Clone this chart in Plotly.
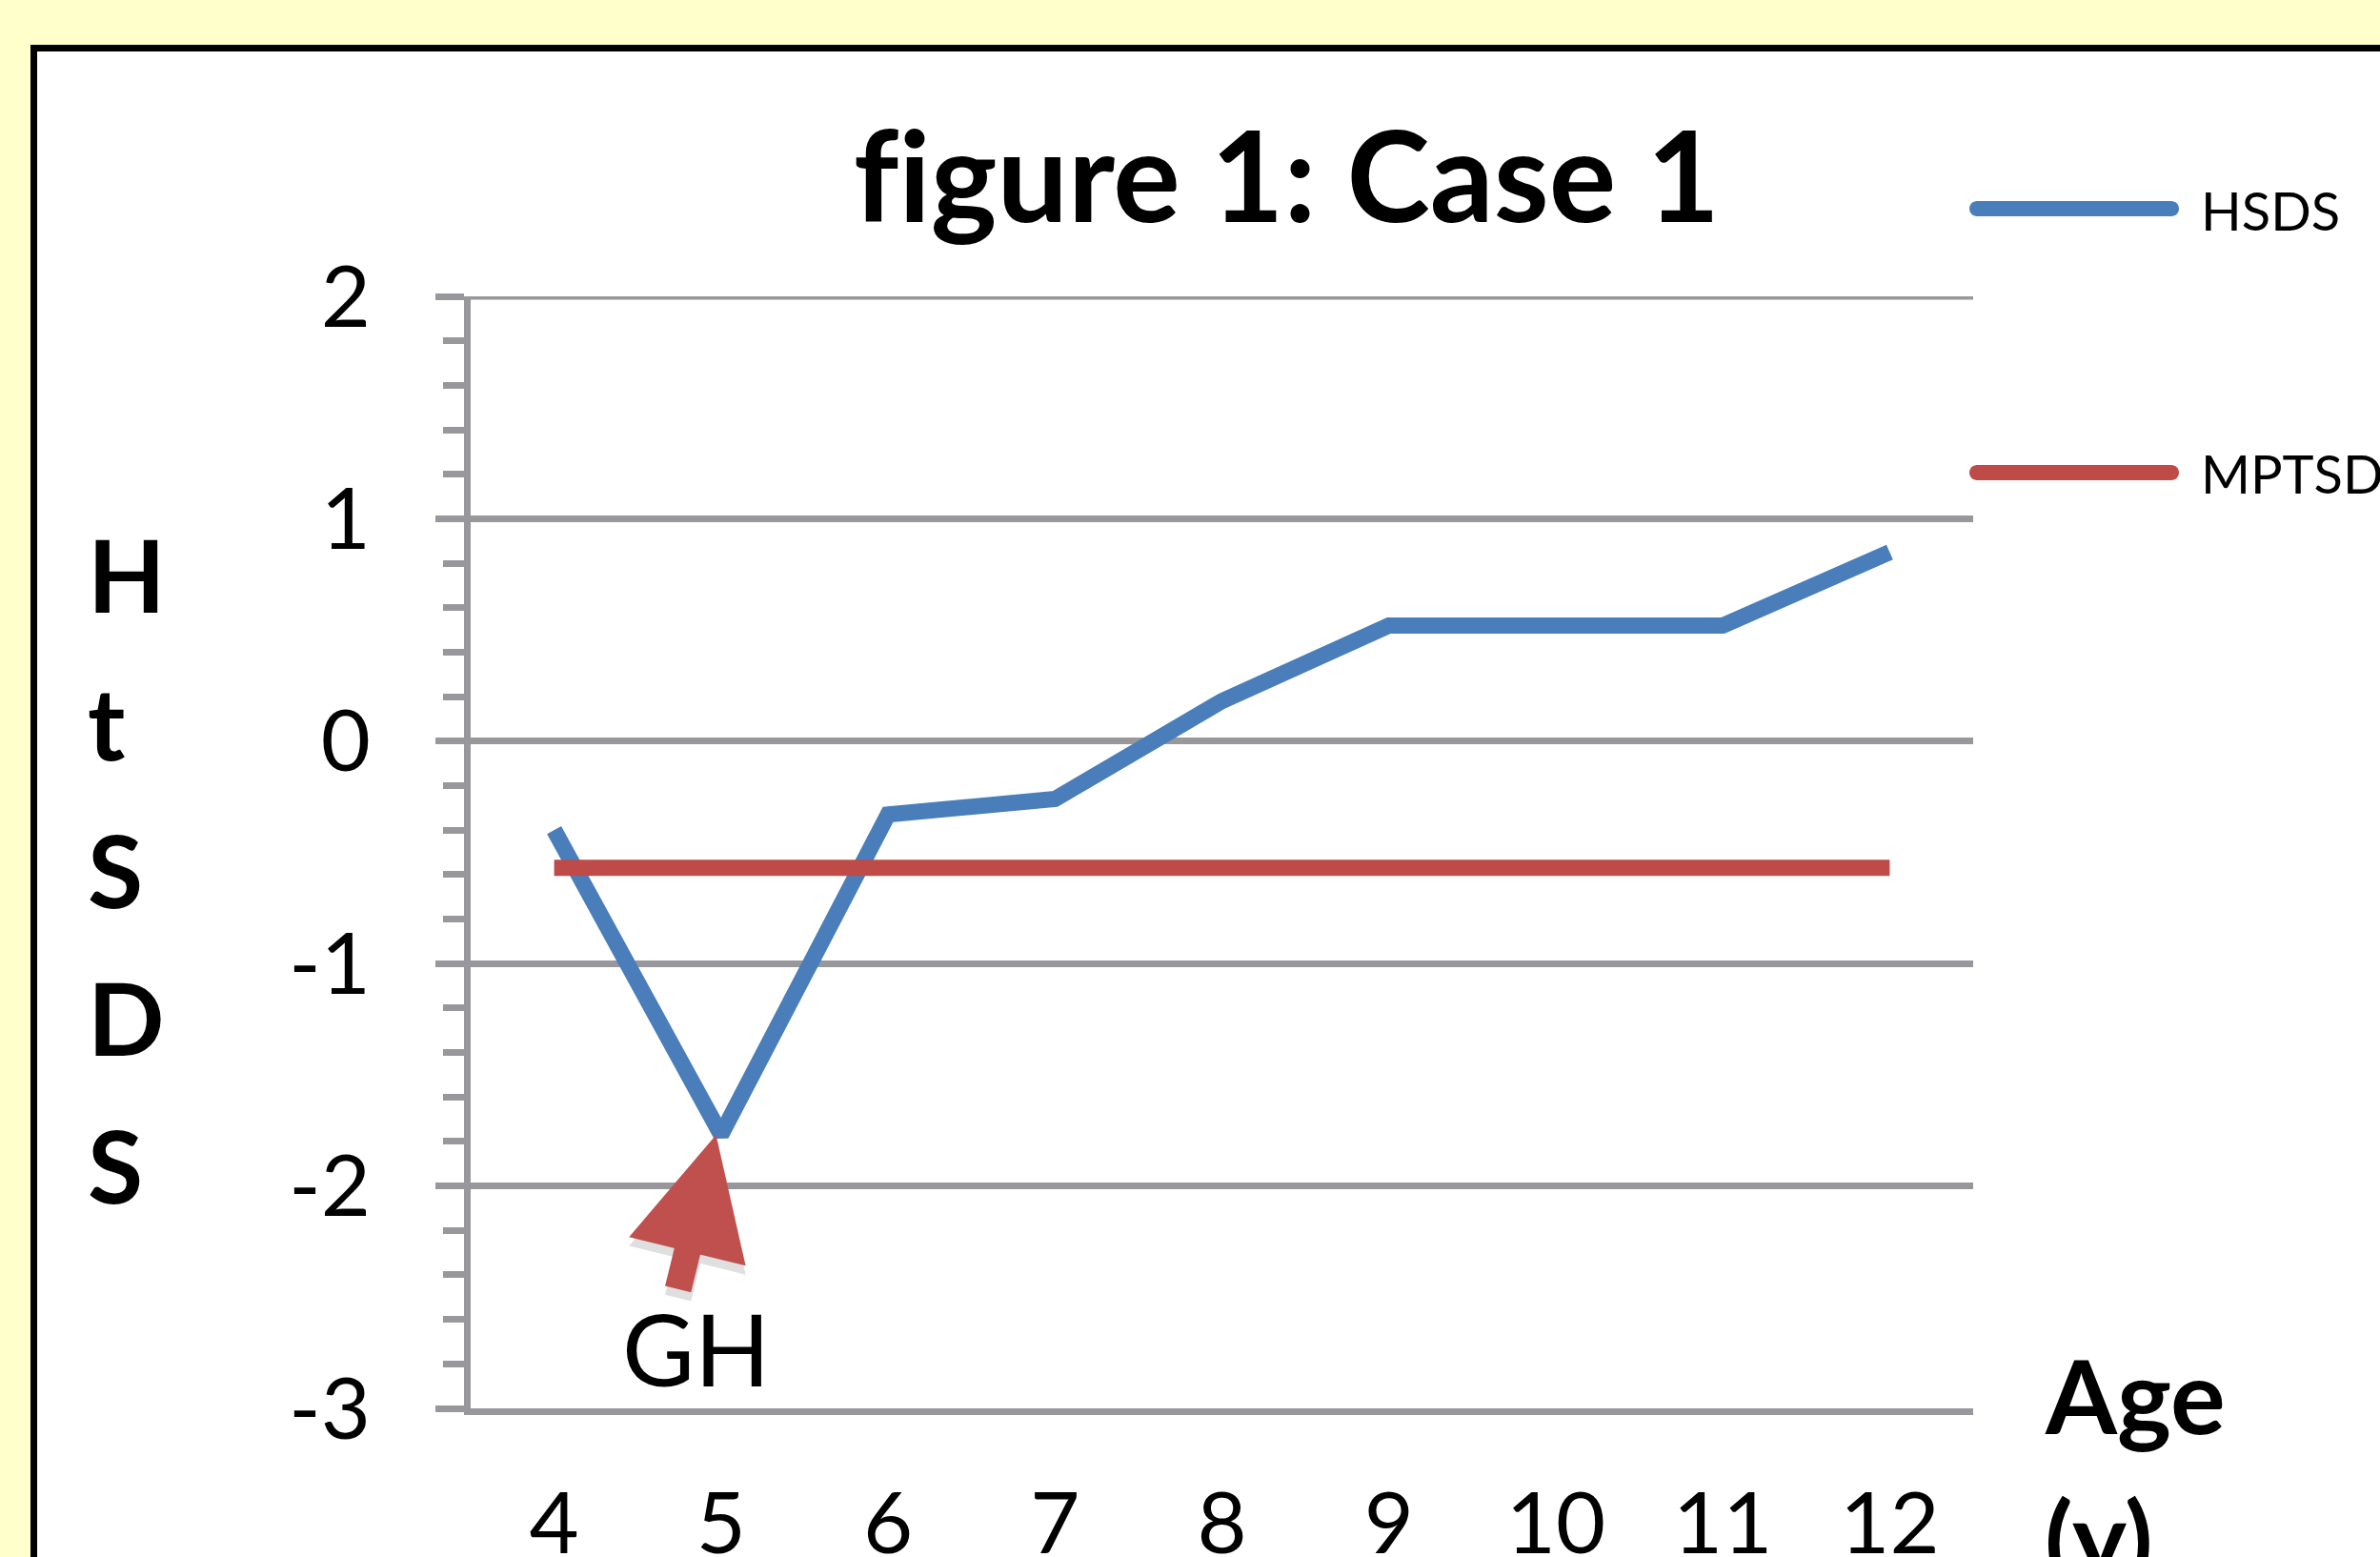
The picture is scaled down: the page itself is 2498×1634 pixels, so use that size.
import plotly.graph_objects as go

# ---- data ----
ages = [4, 5, 6, 7, 8, 9, 10, 11, 12]
age_labels = ["4", "5", "6", "7", "8", "9", "10", "11", "12"]
hsds = [-0.40, -1.77, -0.33, -0.26, 0.18, 0.52, 0.52, 0.52, 0.85]
mptsd = [-0.57, -0.57, -0.57, -0.57, -0.57, -0.57, -0.57, -0.57, -0.57]
y_ticks = [-3, -2, -1, 0, 1, 2]
y_tick_labels = ["-3", "-2", "-1", "0", "1", "2"]
gh_point = [5, -1.77]

# ---- style ----
W, H = 2498, 1634
L, R, T, B = 494, 2071, 311, 1478
PW, PH = R - L, B - T
GRAY = "#98989C"
BLUE = "#4A7EBB"
RED = "#BE4B48"
FONT = "Lato"


def px(x):
    return (x - L) / PW


def py(y):
    return (B - y) / PH


def pill(x0, x1, c, r=8):
    k = r * 0.55
    return (f"M {px(x0 + r)},{py(c - r)} L {px(x1 - r)},{py(c - r)} "
            f"C {px(x1 - r + k)},{py(c - r)} {px(x1)},{py(c - k)} {px(x1)},{py(c)} "
            f"C {px(x1)},{py(c + k)} {px(x1 - r + k)},{py(c + r)} {px(x1 - r)},{py(c + r)} "
            f"L {px(x0 + r)},{py(c + r)} "
            f"C {px(x0 + r - k)},{py(c + r)} {px(x0)},{py(c + k)} {px(x0)},{py(c)} "
            f"C {px(x0)},{py(c - k)} {px(x0 + r - k)},{py(c - r)} {px(x0 + r)},{py(c - r)} Z")


fig = go.Figure()
fig.add_trace(go.Scatter(x=ages, y=hsds, mode="lines", name="HSDS",
                         line=dict(color=BLUE, width=17), showlegend=False))
fig.add_trace(go.Scatter(x=ages, y=mptsd, mode="lines", name="MPTSD",
                         line=dict(color=RED, width=17), showlegend=False))

shapes = [
    dict(type="rect", xref="paper", yref="paper", layer="below",
         x0=px(35.5), x1=px(2700), y0=py(1900), y1=py(50.5),
         line=dict(color="black", width=7), fillcolor="white"),
    # top gridline (y = 2) which plotly omits at the range edge
    dict(type="line", xref="paper", yref="y", x0=0, x1=1, y0=y_ticks[-1], y1=y_ticks[-1],
         line=dict(color=GRAY, width=7)),
    dict(type="path", xref="paper", yref="paper", path=pill(2067, 2287, 219),
         fillcolor=BLUE, line=dict(width=0)),
    dict(type="path", xref="paper", yref="paper", path=pill(2067, 2287, 496),
         fillcolor=RED, line=dict(width=0)),
]

ann = []
# title
ann.append(dict(text="<b>f\u200cigure 1: Case 1</b>", xref="paper", yref="paper",
                x=px(1350), y=py(182), xanchor="center", yanchor="middle",
                showarrow=False, font=dict(family=FONT, size=132, color="black")))
# y title, stacked letters
for letter, cy in zip(["H", "t", "S", "D", "S"], [602, 757, 912, 1067, 1222]):
    ann.append(dict(text=f"<b>{letter}</b>", xref="paper", yref="paper",
                    x=px(90), y=py(cy), xanchor="left", yanchor="middle",
                    showarrow=False, font=dict(family=FONT, size=106, color="black")))
# x title
ann.append(dict(text="<b>Age</b>", xref="paper", yref="paper", x=px(2144), y=py(1463),
                xanchor="left", yanchor="middle", showarrow=False,
                font=dict(family=FONT, size=108, color="black")))
ann.append(dict(text="<b>(y)</b>", xref="paper", yref="paper", x=px(2144), y=py(1612),
                xanchor="left", yanchor="middle", showarrow=False,
                font=dict(family=FONT, size=108, color="black")))
# legend texts
ann.append(dict(text="HSDS", xref="paper", yref="paper", x=px(2308), y=py(221),
                xanchor="left", yanchor="middle", showarrow=False,
                font=dict(family=FONT, size=56, color="black")))
ann.append(dict(text="MPTSD", xref="paper", yref="paper", x=px(2308), y=py(496),
                xanchor="left", yanchor="middle", showarrow=False,
                font=dict(family=FONT, size=56, color="black")))
# GH arrow (shadow + arrow) and label
ann.append(dict(text="", x=gh_point[0] - 0.03, y=gh_point[1] - 0.04, ax=4.74, ay=-2.51,
                xref="x", yref="y", axref="x", ayref="y", showarrow=True,
                arrowhead=2, arrowsize=0.9, arrowwidth=28, standoff=0,
                arrowcolor="rgba(0,0,0,0.12)"))
ann.append(dict(text="", x=gh_point[0] - 0.03, y=gh_point[1], ax=4.74, ay=-2.47,
                xref="x", yref="y", axref="x", ayref="y", showarrow=True,
                arrowhead=2, arrowsize=0.9, arrowwidth=28, standoff=0,
                arrowcolor="#C0504D"))
ann.append(dict(text="GH", x=4.85, y=-2.73, xref="x", yref="y",
                xanchor="center", yanchor="middle", showarrow=False,
                font=dict(family=FONT, size=104, color="black")))

fig.update_layout(
    width=W, height=H,
    margin=dict(l=L, r=W - R, t=T, b=H - B, pad=0, autoexpand=False),
    paper_bgcolor="#FFFFCC", plot_bgcolor="white",
    shapes=shapes, annotations=ann, showlegend=False,
    font=dict(family=FONT, color="black"),
)
fig.update_xaxes(range=[3.5, 12.5], tickvals=ages, ticktext=age_labels,
                 automargin=False,
                 showgrid=False, zeroline=False, showline=True, linecolor=GRAY,
                 linewidth=7, ticks="", ticklabelstandoff=37,
                 tickfont=dict(family=FONT, size=90, color="black"))
fig.update_yaxes(range=[-3, 2], tickvals=y_ticks, ticktext=y_tick_labels,
                 automargin=False,
                 showgrid=True, gridcolor=GRAY, gridwidth=7, zeroline=False,
                 showline=True, linecolor=GRAY, linewidth=7,
                 ticks="outside", ticklen=30, tickwidth=7, tickcolor=GRAY,
                 ticklabelstandoff=50,
                 minor=dict(dtick=0.2, ticks="outside", ticklen=22, tickwidth=7,
                            tickcolor=GRAY, showgrid=False),
                 tickfont=dict(family=FONT, size=90, color="black"))

fig.write_html("out.html", config={"displayModeBar": False},
               post_script="document.body.style.margin='0';document.body.style.overflow='hidden';")
